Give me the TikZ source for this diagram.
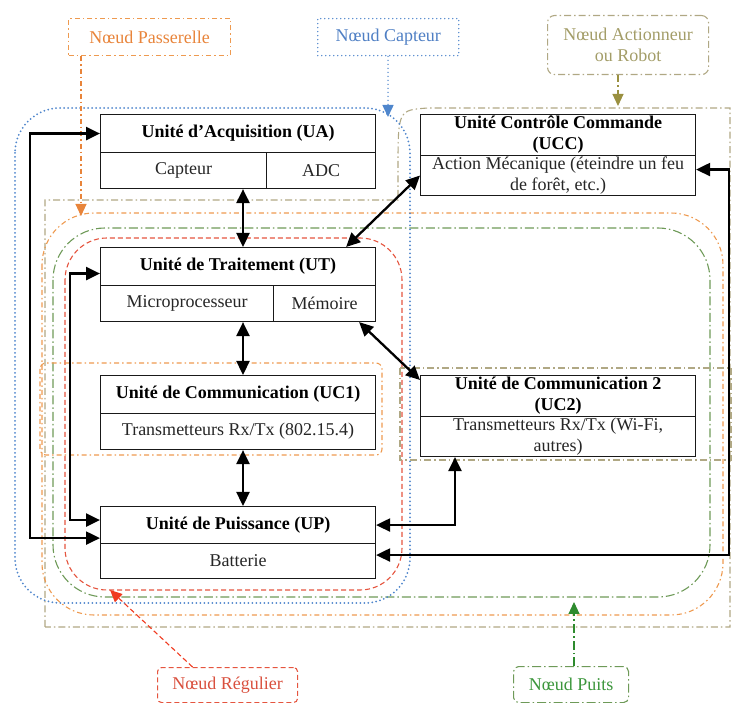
\documentclass[tikz,border=0pt]{standalone}
\usepackage{fontspec}
\setmainfont{Liberation Serif}
\usetikzlibrary{arrows.meta}

\definecolor{passC}{HTML}{EE9A50}
\definecolor{passT}{HTML}{E8843A}
\definecolor{captC}{HTML}{4F86CC}
\definecolor{captT}{HTML}{4F7FC4}
\definecolor{actC}{HTML}{B0A884}
\definecolor{actT}{HTML}{A39D68}
\definecolor{actA}{HTML}{9A9040}
\definecolor{regC}{HTML}{E5553F}
\definecolor{regT}{HTML}{D9503E}
\definecolor{regA}{HTML}{F03A20}
\definecolor{puitsC}{HTML}{6E9A58}
\definecolor{puitsT}{HTML}{3C963C}
\definecolor{puitsA}{HTML}{2E8B2E}

\begin{document}
\begin{tikzpicture}[x=1pt,y=-1pt,
  txt/.style={font=\fontsize{18}{21}\selectfont},
  cell/.style={txt, draw=black!90, line width=1.1pt, fill=white, inner sep=0pt,
    align=center, text=black!85, anchor=north west},
  head/.style={cell, font=\fontsize{18}{21}\selectfont\bfseries, text=black},
  link/.style={line width=2.3pt, {Triangle[length=14pt,width=13pt]}-{Triangle[length=14pt,width=13pt]}},
  passframe/.style={draw=passC, line width=1.1pt, dash pattern=on 5pt off 3pt on 1.5pt off 3pt},
  puitsframe/.style={draw=puitsC, line width=1.1pt, dash pattern=on 9pt off 3pt on 1.5pt off 3pt},
  actframe/.style={draw=actC, line width=1.1pt, dash pattern=on 7pt off 3pt on 1.5pt off 3pt},
  regframe/.style={draw=regC, line width=1.1pt, dash pattern=on 5pt off 3pt},
  captframe/.style={draw=captC, line width=2pt, line cap=round, dash pattern=on 0pt off 4pt},
  lbl/.style={txt, inner sep=0pt, align=center, anchor=north west},
  tipstyle/.style={-{Triangle[length=12pt,width=11pt]}}
]
\useasboundingbox (0,0) rectangle (732,703);

% ---- node frames ----
\draw[actframe] (45,627) -- (45,200) -- (398,200) -- (398,170)
  .. controls (398,110) .. (428,108) -- (730,108) -- (730,627) -- cycle;
\draw[passframe, rounded corners=52] (42,213) rectangle (723,615);
\draw[puitsframe, rounded corners=52] (53,228) rectangle (710,597);
\draw[regframe, rounded corners=42] (65,238) rectangle (402,590);
\draw[captframe, rounded corners=45] (15,108) rectangle (410,603);
\draw[passframe, rounded corners=6] (40,363) rectangle (382,455);
\draw[actframe] (400,368) rectangle (731,460);

% ---- legend labels ----
\node[lbl, passframe, text=passT, minimum width=162, minimum height=37] (nPass) at (68,18) {Nœud Passerelle};
\node[lbl, captframe, line width=1.5pt, text=captT, minimum width=141, minimum height=37] (nCapt) at (317,18) {Nœud Capteur};
\node[lbl, actframe, rounded corners=7, text=actT, minimum width=161, minimum height=59] (nAct) at (547,15) {Nœud Actionneur\\ou Robot};
\node[lbl, regframe, rounded corners=4, text=regT, minimum width=140, minimum height=35] (nReg) at (157,667) {Nœud Régulier};
\node[lbl, puitsframe, rounded corners=5, text=puitsT, minimum width=115, minimum height=36] (nPuits) at (513,666) {Nœud Puits};

\coordinate (tipPass) at (81,216);
\coordinate (tipCapt) at (388,117);
\coordinate (tipAct) at (618,106);
\coordinate (tipReg) at (110,590);
\coordinate (tipPuits) at (574,602);

\draw[passframe, tipstyle, passT] (nPass.south -| tipPass) -- (tipPass);
\draw[captframe, line width=1.5pt, tipstyle, captC] (nCapt.south -| tipCapt) -- (tipCapt);
\draw[actframe, tipstyle, actA] (nAct.south -| tipAct) -- (tipAct);
\draw[regframe, tipstyle, regA] ([xshift=-35pt]nReg.north) -- (tipReg);
\draw[puitsframe, tipstyle, puitsA] (nPuits.north -| tipPuits) -- (tipPuits);

% ---- functional units ----
\node[head, minimum width=275, minimum height=38] (uaT) at (100,114) {Unité d’Acquisition (UA)};
\node[cell, minimum width=166, minimum height=36] (uaCap) at (100,152) {Capteur};
\node[cell, minimum width=109, minimum height=36] (uaAdc) at (266,152) {ADC};

\node[head, minimum width=275, minimum height=41] (uccT) at (420,114) {Unité Contrôle Commande\\(UCC)};
\node[cell, minimum width=275, minimum height=40] (uccB) at (420,155) {Action Mécanique (éteindre un feu\\de forêt, etc.)};

\node[head, minimum width=275, minimum height=38] (utT) at (100,247) {Unité de Traitement (UT)};
\node[cell, minimum width=173, minimum height=36] (utMic) at (100,285) {Microprocesseur};
\node[cell, minimum width=102, minimum height=36] (utMem) at (273,285) {Mémoire};

\node[head, minimum width=275, minimum height=38] (uc1T) at (100,375) {Unité de Communication (UC1)};
\node[cell, minimum width=275, minimum height=36] (uc1B) at (100,413) {Transmetteurs Rx/Tx (802.15.4)};

\node[head, minimum width=275, minimum height=41] (uc2T) at (420,375) {Unité de Communication 2\\(UC2)};
\node[cell, minimum width=275, minimum height=40] (uc2B) at (420,416) {Transmetteurs Rx/Tx (Wi-Fi,\\autres)};

\node[head, minimum width=275, minimum height=37] (upT) at (100,506) {Unité de Puissance (UP)};
\node[cell, minimum width=275, minimum height=35] (upB) at (100,543) {Batterie};

% ---- links between units ----
\coordinate (spine) at (243,0);
\draw[link] (spine |- uaCap.south) -- (spine |- utT.north);
\draw[link] (spine |- utMic.south) -- (spine |- uc1T.north);
\draw[link] (spine |- uc1B.south) -- (spine |- upT.north);
\draw[link] ([xshift=-30pt]utT.north east) -- (uccB.west);
\draw[link] ([xshift=-17pt]utMem.south east) -- ([yshift=-5pt]uc2T.north west);

\coordinate (railL) at (30,0);
\coordinate (railM) at (70,0);
\coordinate (railR) at (455,0);
\coordinate (railO) at (729,0);
\coordinate (upInA) at ([yshift=6pt]upT.south west);
\coordinate (upInB) at ([yshift=5pt]upT.west);
\coordinate (utIn) at ([yshift=-7pt]utT.west);
\coordinate (upOut) at ([yshift=6pt]upB.east);
\coordinate (uccIn) at ([yshift=6pt]uccB.east);

\draw[link] (uaT.west) -- (railL |- uaT.west) -- (railL |- upInA) -- (upInA);
\draw[link] (utIn) -- (railM |- utIn) -- (railM |- upInB) -- (upInB);
\draw[link] (upT.east) -- (railR |- upT.east) -- (railR |- uc2B.south);
\draw[link] (upOut) -- (railO |- upOut) -- (railO |- uccIn) -- (uccIn);
\end{tikzpicture}
\end{document}
